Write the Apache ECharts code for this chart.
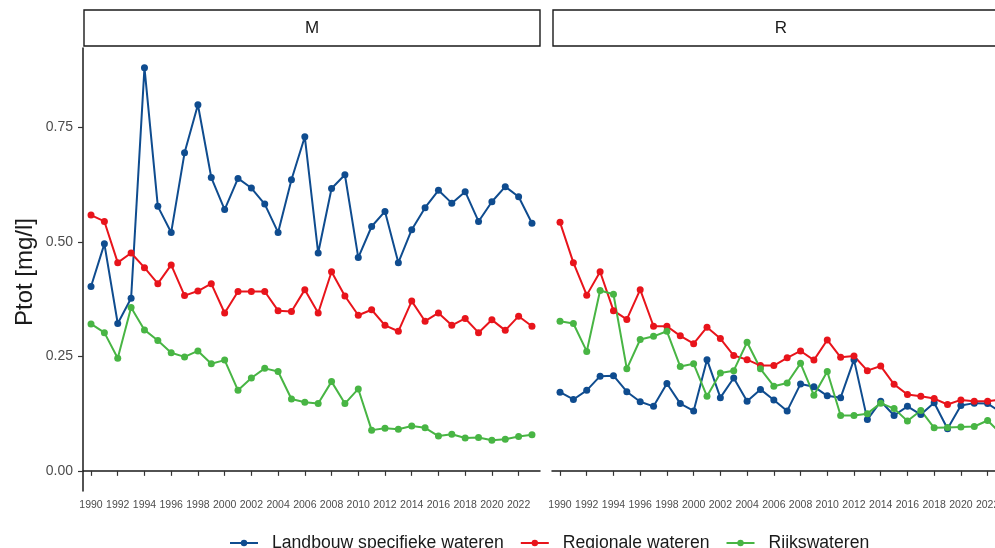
<!DOCTYPE html>
<html>
<head>
<meta charset="utf-8">
<script src="https://cdn.jsdelivr.net/npm/echarts@6/dist/echarts.min.js"></script>
<style>
  html, body { margin: 0; padding: 0; background: #fff; overflow: hidden; }
  #chart { width: 1012px; height: 548px; }
</style>
</head>
<body>
<div id="chart"></div>
<script>
// jaren en waarden (Ptot mg/l)
var years = [1990,1991,1992,1993,1994,1995,1996,1997,1998,1999,2000,2001,2002,2003,2004,2005,2006,2007,
             2008,2009,2010,2011,2012,2013,2014,2015,2016,2017,2018,2019,2020,2021,2022,2023];
var yearTicks = [1990,1992,1994,1996,1998,2000,2002,2004,2006,2008,2010,2012,2014,2016,2018,2020,2022];
var yTicks = [0, 0.25, 0.5, 0.75];
var seriesNames = ['Landbouw specifieke wateren', 'Regionale wateren', 'Rijkswateren'];
var panels = ['M', 'R'];

// paneel M
var landbouwM = [0.403,0.496,0.322,0.377,0.881,0.578,0.521,0.695,0.800,0.641,0.571,0.639,0.618,0.583,0.521,0.636,0.730,0.476,
                 0.617,0.647,0.466,0.534,0.567,0.455,0.527,0.575,0.613,0.585,0.610,0.545,0.588,0.621,0.599,0.541];
var regionaalM = [0.559,0.545,0.455,0.476,0.444,0.409,0.450,0.383,0.393,0.409,0.345,0.392,0.392,0.392,0.350,0.348,0.396,0.345,
                  0.435,0.382,0.340,0.352,0.318,0.305,0.371,0.327,0.345,0.318,0.333,0.302,0.330,0.307,0.338,0.316];
var rijksM = [0.321,0.302,0.246,0.357,0.308,0.285,0.258,0.249,0.262,0.234,0.242,0.176,0.203,0.224,0.217,0.157,0.150,0.147,
              0.195,0.147,0.179,0.089,0.093,0.091,0.098,0.094,0.076,0.080,0.072,0.073,0.067,0.069,0.075,0.079];

// paneel R
var landbouwR = [0.172,0.156,0.176,0.207,0.208,0.173,0.151,0.141,0.191,0.147,0.131,0.243,0.160,0.203,0.152,0.178,0.155,0.131,
                 0.190,0.184,0.164,0.160,0.243,0.112,0.152,0.121,0.141,0.123,0.149,0.092,0.143,0.148,0.147,0.128];
var regionaalR = [0.543,0.455,0.384,0.435,0.350,0.331,0.396,0.316,0.316,0.295,0.278,0.314,0.289,0.252,0.243,0.230,0.230,0.247,
                  0.262,0.242,0.286,0.248,0.251,0.219,0.229,0.189,0.167,0.163,0.158,0.145,0.155,0.152,0.152,0.156];
var rijksR = [0.327,0.322,0.261,0.394,0.386,0.223,0.287,0.294,0.305,0.228,0.234,0.163,0.214,0.219,0.281,0.223,0.185,0.192,
              0.235,0.165,0.217,0.121,0.121,0.125,0.148,0.136,0.109,0.132,0.094,0.095,0.096,0.097,0.110,0.081];

var colors = ['#0F4C8F', '#E8141B', '#48B544'];
var font = '"Liberation Sans", Arial, sans-serif';

function pairs(vals) {
  return years.map(function (y, i) { return [y, vals[i]]; });
}

function lineSeries(name, vals, idx, color) {
  return {
    name: name,
    type: 'line',
    xAxisIndex: idx,
    yAxisIndex: idx,
    data: pairs(vals),
    symbol: 'circle',
    symbolSize: 7,
    clip: false,
    lineStyle: { color: color, width: 2 },
    itemStyle: { color: color },
    emphasis: { disabled: true }
  };
}

function xAxis(idx) {
  return {
    type: 'value',
    gridIndex: idx,
    min: 1989.4,
    max: 2023.6,
    splitLine: { show: false },
    axisLine: { show: true, lineStyle: { color: '#1a1a1a', width: 1.5 } },
    axisTick: { show: true, length: 5, customValues: yearTicks, lineStyle: { color: '#333', width: 1.2 } },
    axisLabel: { customValues: yearTicks, color: '#4d4d4d', fontSize: 10.5, fontFamily: font, margin: 9,
                 formatter: function (v) { return String(v); } }
  };
}

function yAxis(idx) {
  return {
    type: 'value',
    gridIndex: idx,
    min: -0.044,
    max: 0.924,
    splitLine: { show: false },
    axisLine: { show: idx === 0, lineStyle: { color: '#1a1a1a', width: 1.5 } },
    axisTick: { show: idx === 0, length: 5, customValues: yTicks, lineStyle: { color: '#333', width: 1.2 } },
    axisLabel: { show: idx === 0, customValues: yTicks, color: '#4d4d4d', fontSize: 14, fontFamily: font, margin: 10,
                 formatter: function (v) { return v.toFixed(2); } }
  };
}

function strip(x, label) {
  return {
    type: 'group',
    children: [
      { type: 'rect', shape: { x: x, y: 10, width: 456, height: 36 },
        style: { fill: '#fff', stroke: '#1a1a1a', lineWidth: 1.4 } },
      { type: 'text', x: x + 228, y: 28,
        style: { text: label, fill: '#1a1a1a', font: '17px ' + font, align: 'center', verticalAlign: 'middle' } }
    ]
  };
}

var chart = echarts.init(document.getElementById('chart'));
chart.setOption({
  animation: false,
  color: colors,
  grid: [
    { left: 83, top: 48, width: 457, height: 443 },
    { left: 552, top: 48, width: 457, height: 443 }
  ],
  xAxis: [xAxis(0), xAxis(1)],
  yAxis: [yAxis(0), yAxis(1)],
  legend: {
    data: seriesNames,
    left: 224,
    top: 529,
    itemWidth: 28,
    itemHeight: 8,
    itemGap: 16,
    textStyle: { fontSize: 17.6, color: '#1a1a1a', fontFamily: font, padding: [0, 0, 0, 9] }
  },
  graphic: [
    strip(84, panels[0]),
    strip(553, panels[1]),
    { type: 'text', x: 25, y: 272, rotation: Math.PI / 2,
      style: { text: 'Ptot [mg/l]', fill: '#1a1a1a', font: '24px ' + font, align: 'center', verticalAlign: 'middle' } }
  ],
  series: [
    lineSeries(seriesNames[0], landbouwM, 0, colors[0]),
    lineSeries(seriesNames[1], regionaalM, 0, colors[1]),
    lineSeries(seriesNames[2], rijksM, 0, colors[2]),
    lineSeries(seriesNames[0], landbouwR, 1, colors[0]),
    lineSeries(seriesNames[1], regionaalR, 1, colors[1]),
    lineSeries(seriesNames[2], rijksR, 1, colors[2])
  ]
});
</script>
</body>
</html>
